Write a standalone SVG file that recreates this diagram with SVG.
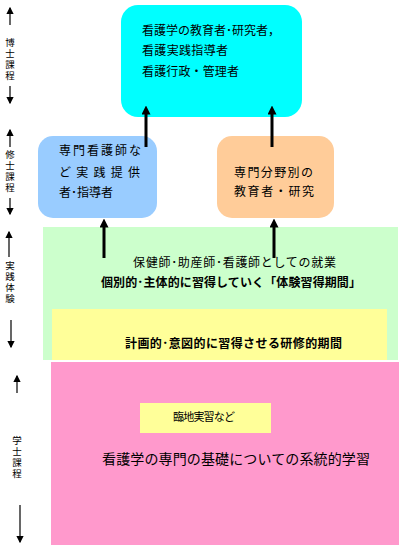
<svg xmlns="http://www.w3.org/2000/svg" width="409" height="553" viewBox="0 0 409 553">
<defs>
<style>
text{font-family:"Noto Sans CJK JP","Noto Sans CJK SC",sans-serif;fill:#000}
.t12{font-size:12px}
.b{font-weight:bold}
.ax{font-size:9.5px;writing-mode:vertical-rl;letter-spacing:1.5px}
.thick{stroke:#000;stroke-width:3;fill:none}
.thin{stroke:#000;stroke-width:1.2;fill:none}
</style>
<marker id="big" markerWidth="3" markerHeight="3" refX="1.5" refY="1.5" orient="auto" markerUnits="strokeWidth" viewBox="0 0 3 3"><path d="M0,0 L3,1.5 L0,3 z" fill="#000"/></marker>
<marker id="sm" markerWidth="6" markerHeight="6" refX="5" refY="3" orient="auto" markerUnits="strokeWidth" viewBox="0 0 6 6"><path d="M0,0 L6,3 L0,6 z" fill="#000"/></marker>
</defs>
<rect width="409" height="553" fill="#fff"/>

<g id="bg-green"><rect x="43" y="227" width="355" height="133" fill="#ccffcc"/>
<text class="t12" x="133" y="267" textLength="203" lengthAdjust="spacing">保健師･助産師･看護師としての就業</text>
<text class="t12 b" x="101" y="287" textLength="260" lengthAdjust="spacing">個別的･主体的に習得していく「体験習得期間」</text>
</g>
<g id="bg-yellow"><rect x="52" y="309" width="335" height="51" fill="#ffff99"/>
<text class="t12 b" x="125" y="348" textLength="217" lengthAdjust="spacing">計画的･意図的に習得させる研修的期間</text>
</g>
<g id="bg-pink"><rect x="51" y="362" width="348" height="183" fill="#ff99cc"/>
<text style="font-size:14px" x="102" y="464" textLength="268" lengthAdjust="spacing">看護学の専門の基礎についての系統的学習</text>
</g>
<g id="rinchi"><rect x="140" y="403" width="131" height="30" fill="#ffff99"/>
<text style="font-size:11px" x="173" y="421" textLength="62" lengthAdjust="spacing">臨地実習など</text>
</g>

<g id="doctor"><rect x="121" y="5" width="181" height="112" rx="17" fill="#00ffff"/>
<text class="t12" x="142" y="35" textLength="138" lengthAdjust="spacing">看護学の教育者･研究者，</text>
<text class="t12" x="142" y="55" textLength="86" lengthAdjust="spacing">看護実践指導者</text>
<text class="t12" x="142" y="76" textLength="97" lengthAdjust="spacing">看護行政・管理者</text>
</g>
<g id="master-left"><rect x="38" y="136" width="119" height="82" rx="15" fill="#99ccff"/>
<text class="t12" x="59" y="155" textLength="82" lengthAdjust="spacing">専門看護師な</text>
<text class="t12" x="59" y="177" textLength="81" lengthAdjust="spacing">ど 実 践 提 供</text>
<text class="t12" x="59" y="197" textLength="54" lengthAdjust="spacing">者･指導者</text>
</g>
<g id="master-right"><rect x="217" y="136" width="117" height="82" rx="15" fill="#ffcc99"/>
<text class="t12" x="234" y="177" textLength="79" lengthAdjust="spacing">専門分野別の</text>
<text class="t12" x="234" y="196" textLength="80" lengthAdjust="spacing">教育者・研究</text>
</g>

<g id="connectors">
<line class="thick" x1="146" y1="147" x2="146" y2="110" marker-end="url(#big)"/>
<line class="thick" x1="272" y1="147" x2="272" y2="110" marker-end="url(#big)"/>
<line class="thick" x1="104" y1="258" x2="104" y2="223" marker-end="url(#big)"/>
<line class="thick" x1="274" y1="258" x2="274" y2="223" marker-end="url(#big)"/>
</g>

<g id="axis">
<line class="thin" x1="10" y1="25" x2="10" y2="8" marker-end="url(#sm)"/>
<text class="ax" x="10" y="38">博士課程</text>
<line class="thin" x1="10" y1="86" x2="10" y2="103" marker-end="url(#sm)"/>

<line class="thin" x1="10" y1="147" x2="10" y2="130" marker-end="url(#sm)"/>
<text class="ax" x="10" y="150">修士課程</text>
<line class="thin" x1="10" y1="198" x2="10" y2="214" marker-end="url(#sm)"/>

<line class="thin" x1="9" y1="257" x2="9" y2="232" marker-end="url(#sm)"/>
<text class="ax" x="10" y="261">実践体験</text>
<line class="thin" x1="11" y1="320" x2="11" y2="347" marker-end="url(#sm)"/>

<line class="thin" x1="17" y1="393" x2="17" y2="376" marker-end="url(#sm)"/>
<text class="ax" x="17" y="436">学士課程</text>
<line class="thin" x1="20" y1="505" x2="20" y2="542" marker-end="url(#sm)"/>
</g>
</svg>
